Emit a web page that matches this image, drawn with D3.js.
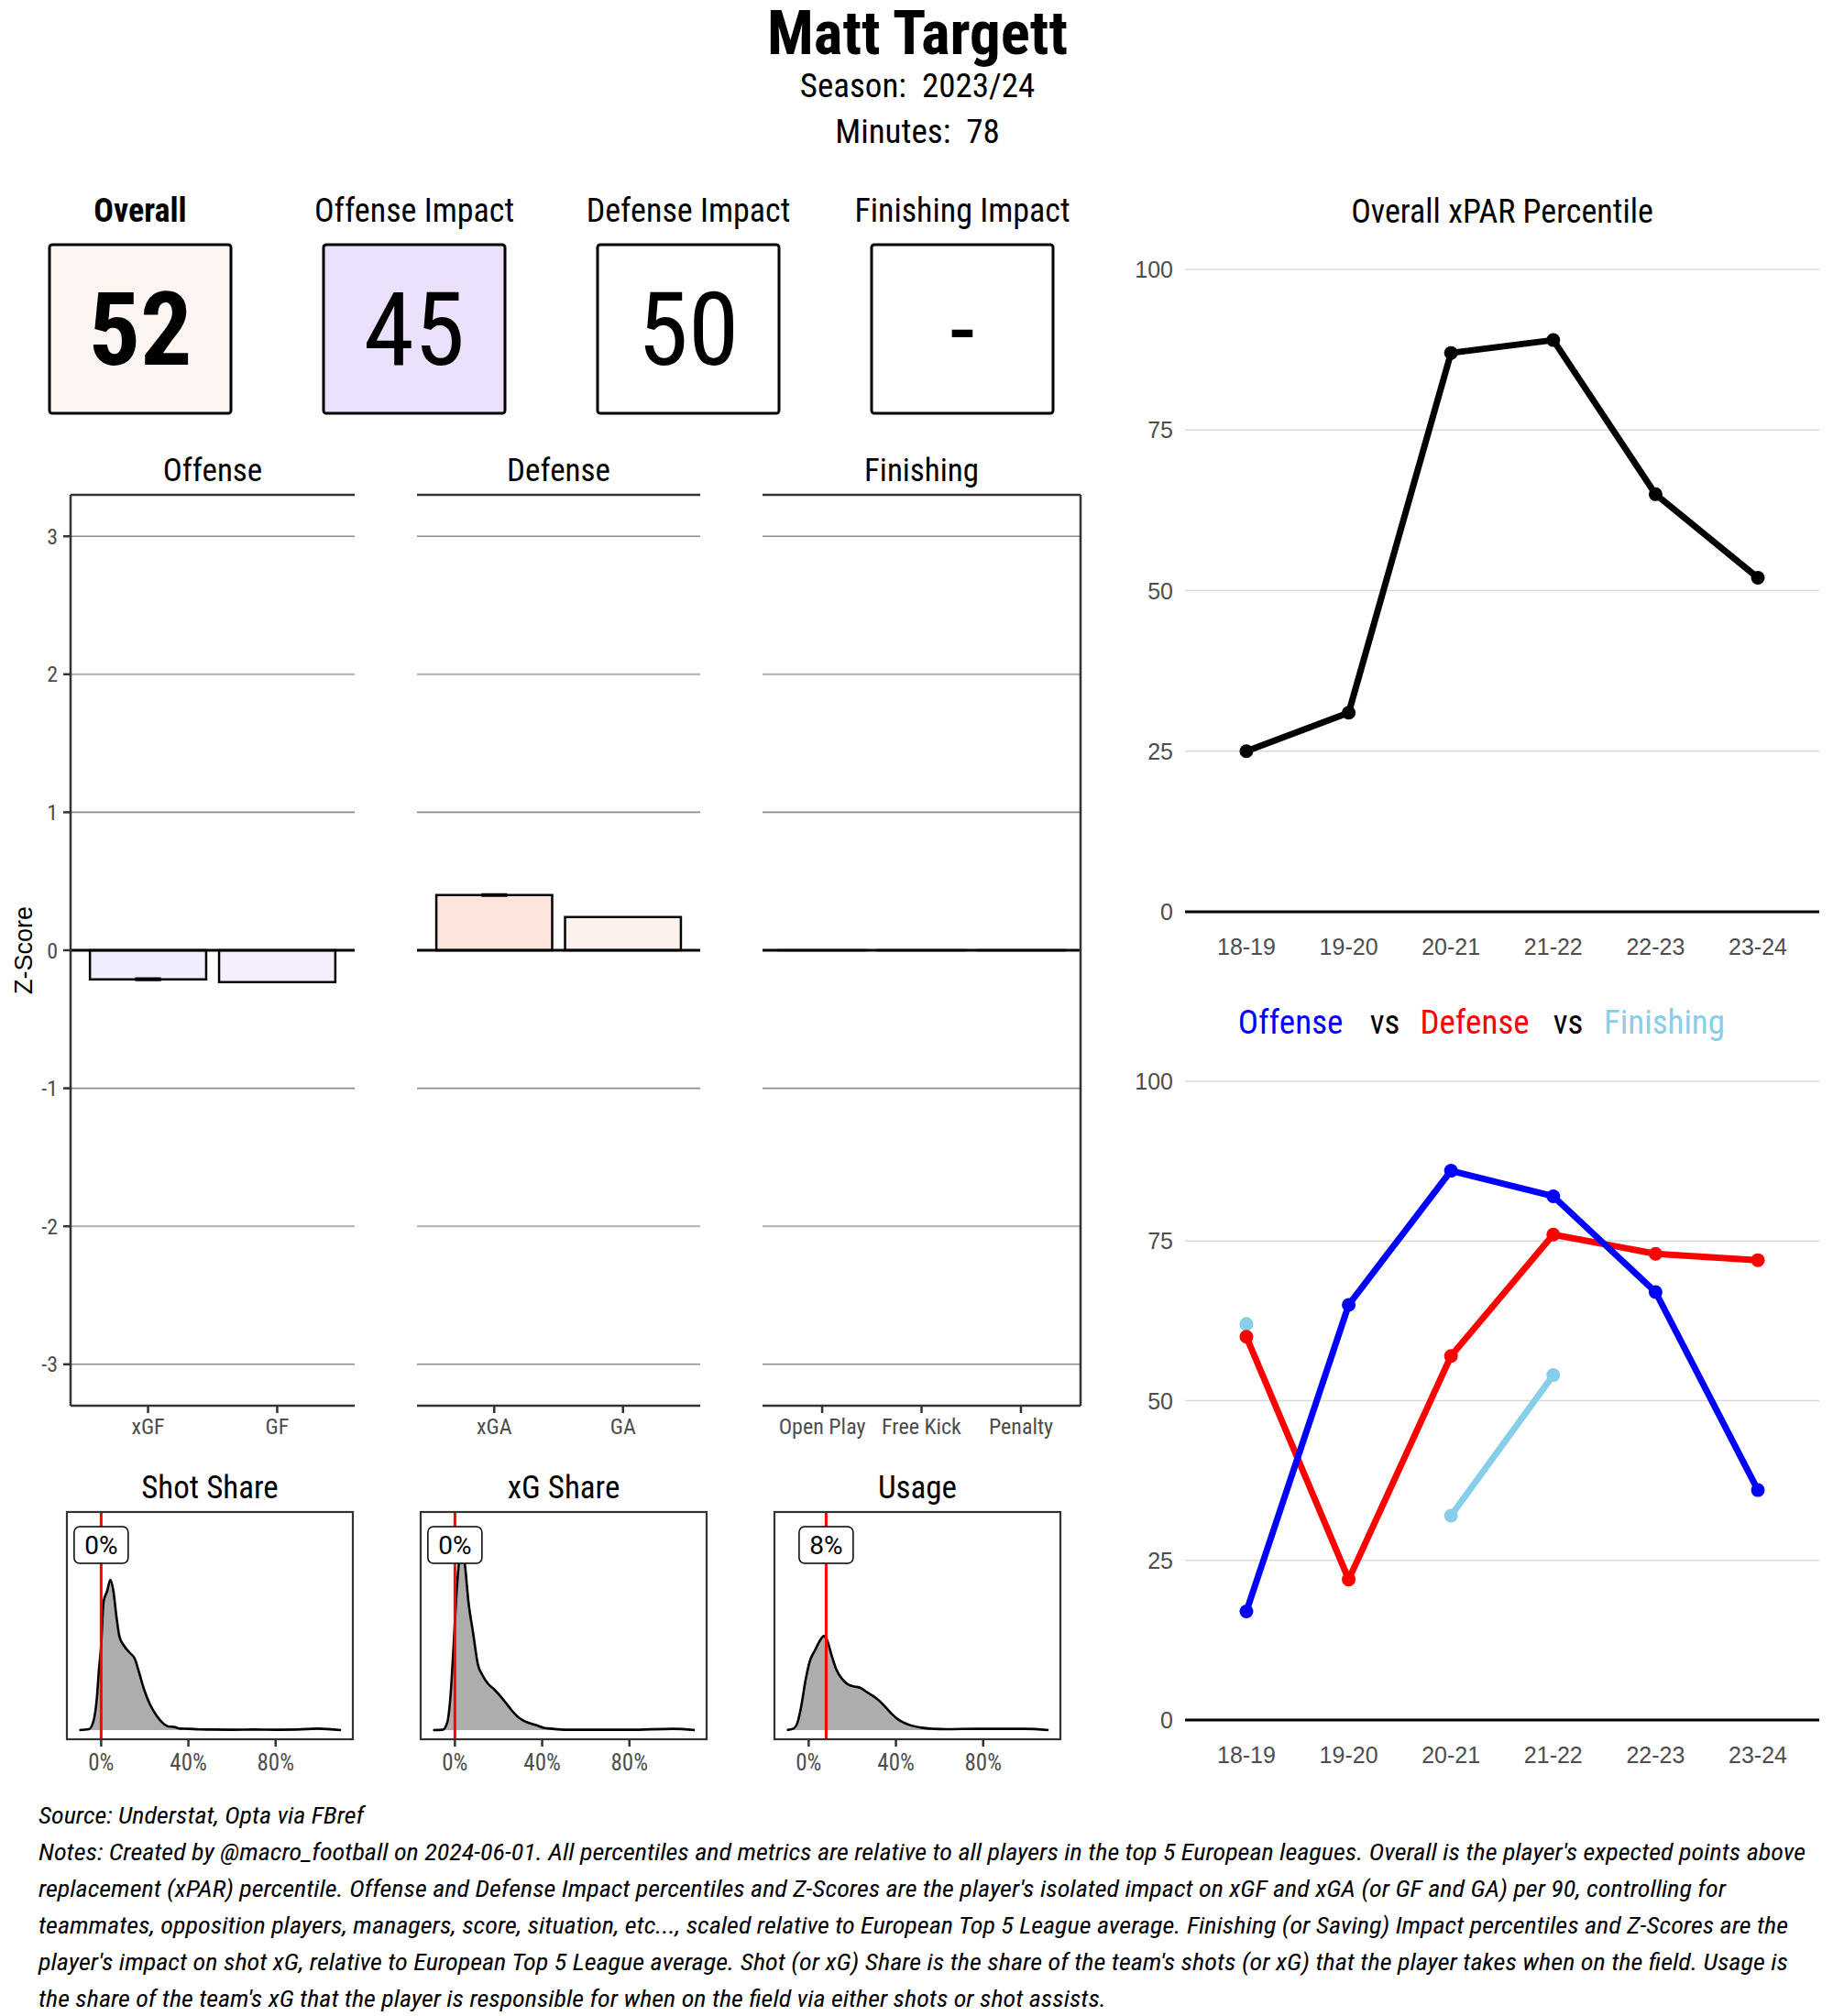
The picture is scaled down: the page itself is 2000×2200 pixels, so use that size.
<!DOCTYPE html>
<html>
<head>
<meta charset="utf-8">
<title>Matt Targett</title>
<style>
  body { margin: 0; background: #fff; }
  svg text { font-family: 'Roboto Condensed', 'Liberation Sans Narrow', 'Arial Narrow', 'DejaVu Sans Condensed', Roboto, sans-serif; font-stretch: condensed; }
  svg text.plain { font-family: 'Liberation Sans', Arial, sans-serif; font-stretch: normal; }
  svg text.rob { font-family: Roboto, sans-serif; font-stretch: normal; }
</style>
</head>
<body>
<div id="chart"></div>
<script src="https://d3js.org/d3.v7.min.js"></script>
<script>
  const playerName = 'Matt Targett';
  const seasonLabel = '2023/24';
  const minutesPlayed = 78;

  const impactTitles = ['Overall', 'Offense Impact', 'Defense Impact', 'Finishing Impact'];
  const impactValues = [52, 45, 50, null];

  const zTicks = [-3, -2, -1, 0, 1, 2, 3];
  const offenseCats = ['xGF', 'GF'];
  const offenseZ = [-0.21, -0.23];
  const offenseErr = [[-0.215, -0.205], null];
  const defenseCats = ['xGA', 'GA'];
  const defenseZ = [0.40, 0.24];
  const defenseErr = [[0.395, 0.405], null];
  const finishingCats = ['Open Play', 'Free Kick', 'Penalty'];
  const finishingZ = [0, 0, 0];

  const shareTicks = [0, 40, 80];
  const shareTitles = ['Shot Share', 'xG Share', 'Usage'];
  const playerShares = [0, 0, 8];
  // [share %, density]
  const shotShareDensity = [[-10,0],[-5.6,0.05],[-3.5,0.5],[-2,1.7],[-1,3.3],[0,4.6],[1.1,7.0],[2.8,7.6],[4.2,8.2],[5.6,7.6],[7,6.2],[8.4,5.1],[10.5,4.6],[13.3,4.2],[15.4,3.9],[17.5,3.1],[19.6,2.25],[22.4,1.4],[25.2,0.83],[28,0.42],[30.8,0.2],[33.6,0.17],[36.4,0.08],[40,0.07],[45,0.04],[50,0.03],[60,0.02],[70,0.03],[80,0.02],[90,0.03],[99,0.08],[110,0]];
  const xgShareDensity = [[-10,0],[-5.6,0.02],[-3.5,0.42],[-2.1,1.75],[-0.7,4.4],[0.7,7.4],[2.1,9.4],[3.1,9.9],[4.2,9.4],[6.3,6.9],[8.4,5.25],[10.5,3.6],[12.6,3.0],[15.4,2.5],[18.2,2.2],[21,1.83],[23.8,1.42],[26.6,1.0],[29.4,0.67],[32.2,0.47],[35,0.35],[37.8,0.25],[40.6,0.13],[44.8,0.07],[51.7,0.02],[60,0.02],[80,0.02],[100,0.07],[110,0]];
  const usageDensity = [[-10,0],[-7,0.08],[-4.9,0.5],[-3.5,1.25],[-1.4,2.75],[0.7,3.83],[2.8,4.33],[4.9,4.83],[7,5.13],[8.4,4.92],[10.5,4.08],[12.6,3.33],[15.4,2.78],[18.2,2.48],[21,2.38],[23.8,2.3],[26.6,2.08],[29.4,1.87],[32.2,1.62],[35,1.28],[37.8,0.92],[40.6,0.62],[43.4,0.42],[46.2,0.28],[51.7,0.13],[57.3,0.07],[63,0.05],[77,0.07],[99,0.07],[110,0]];

  const seasons = ['18-19', '19-20', '20-21', '21-22', '22-23', '23-24'];
  const pctTicks = [0, 25, 50, 75, 100];
  const overallPct = [25, 31, 87, 89, 65, 52];
  const offensePct = [17, 65, 86, 82, 67, 36];
  const defensePct = [60, 22, 57, 76, 73, 72];
  const finishingPct = [62, null, 32, 54, null, null];

  const sourceLine = 'Source: Understat, Opta via FBref';
  const noteLines = [
    "Notes: Created by @macro_football on 2024-06-01. All percentiles and metrics are relative to all players in the top 5 European leagues. Overall is the player's expected points above",
    "replacement (xPAR) percentile. Offense and Defense Impact percentiles and Z-Scores are the player's isolated impact on xGF and xGA (or GF and GA) per 90, controlling for",
    "teammates, opposition players, managers, score, situation, etc..., scaled relative to European Top 5 League average. Finishing (or Saving) Impact percentiles and Z-Scores are the",
    "player's impact on shot xG, relative to European Top 5 League average. Shot (or xG) Share is the share of the team's shots (or xG) that the player takes when on the field. Usage is",
    "the share of the team's xG that the player is responsible for when on the field via either shots or shot assists."
  ];

  const svg = d3.select('#chart').append('svg').attr('width', 2000).attr('height', 2200);
  svg.append('rect').attr('width', 2000).attr('height', 2200).attr('fill', '#fff');

  // header
  svg.append('text').attr('x', 1001).attr('y', 59).attr('text-anchor', 'middle')
    .attr('font-size', 67).attr('font-weight', 'bold').text(playerName);
  svg.append('text').attr('x', 1001).attr('y', 106).attr('text-anchor', 'middle')
    .attr('font-size', 37).style('white-space', 'pre').text(`Season:  ${seasonLabel}`);
  svg.append('text').attr('x', 1001).attr('y', 156).attr('text-anchor', 'middle')
    .attr('font-size', 37).style('white-space', 'pre').text(`Minutes:  ${minutesPlayed}`);

  // impact boxes
  const boxX = d3.scalePoint().domain(impactTitles).range([153, 1050]);
  const boxFill = { 'Overall': '#fdf5f2', 'Offense Impact': '#ece1fd', 'Defense Impact': '#ffffff', 'Finishing Impact': '#ffffff' };
  impactTitles.forEach((t, i) => {
    const cx = boxX(t);
    svg.append('text').attr('x', cx).attr('y', 242).attr('text-anchor', 'middle')
      .attr('font-size', 36).attr('font-weight', i === 0 ? 'bold' : 'normal').text(t);
    svg.append('rect').attr('x', cx - 99).attr('y', 267).attr('width', 198).attr('height', 184)
      .attr('rx', 3).attr('fill', boxFill[t]).attr('stroke', '#000').attr('stroke-width', 3);
    svg.append('text').attr('x', cx).attr('y', 398).attr('text-anchor', 'middle')
      .attr('font-size', 112).attr('font-weight', i === 0 ? 'bold' : 'normal')
      .text(impactValues[i] == null ? '-' : impactValues[i]);
  });

  // z-score panels
  const zScale = d3.scaleLinear().domain([-3.3, 3.3]).range([1534, 540]);
  const zPanels = [
    { title: 'Offense', cats: offenseCats, vals: offenseZ, err: offenseErr, fills: ['#f0edfe', '#f6eefd'], x0: 77, x1: 387 },
    { title: 'Defense', cats: defenseCats, vals: defenseZ, err: defenseErr, fills: ['#fce5dd', '#fdf0ed'], x0: 455, x1: 764 },
    { title: 'Finishing', cats: finishingCats, vals: finishingZ, err: [null, null, null], fills: ['#fff', '#fff', '#fff'], x0: 832, x1: 1179 }
  ];

  zPanels.forEach((p, pi) => {
    const g = svg.append('g');
    const xs = d3.scaleLinear().domain([0.4, p.cats.length + 0.6]).range([p.x0, p.x1]);

    zTicks.filter(t => t !== 0).forEach(t => {
      g.append('line').attr('x1', p.x0).attr('x2', p.x1).attr('y1', zScale(t)).attr('y2', zScale(t))
        .attr('stroke', t % 2 === 0 ? '#b8b8b8' : '#8c8c8c').attr('stroke-width', t % 2 === 0 ? 2.2 : 1.6);
    });

    p.vals.forEach((v, i) => {
      const xa = xs(i + 1 - 0.45), xb = xs(i + 1 + 0.45);
      const y0 = zScale(0), y1 = zScale(v);
      g.append('path').attr('d', `M${xa},${y0}H${xb}V${y1}H${xa}Z`)
        .attr('fill', p.fills[i]).attr('stroke', '#000').attr('stroke-width', 2.5);
      if (p.err[i]) {
        const ea = xs(i + 1 - 0.1), eb = xs(i + 1 + 0.1);
        const lo = zScale(p.err[i][0]), hi = zScale(p.err[i][1]);
        g.append('path').attr('d', `M${ea},${lo}H${eb}M${ea},${hi}H${eb}M${(ea + eb) / 2},${lo}V${hi}`)
          .attr('stroke', '#000').attr('stroke-width', 2.5).attr('fill', 'none');
      }
    });

    g.append('line').attr('x1', p.x0).attr('x2', p.x1).attr('y1', zScale(0)).attr('y2', zScale(0))
      .attr('stroke', '#000').attr('stroke-width', 3);

    // panel frame lines
    g.append('line').attr('x1', p.x0).attr('x2', p.x1).attr('y1', 540).attr('y2', 540).attr('stroke', '#333').attr('stroke-width', 2.5);
    g.append('line').attr('x1', p.x0).attr('x2', p.x1).attr('y1', 1534).attr('y2', 1534).attr('stroke', '#333').attr('stroke-width', 2.5);
    if (pi === 0) g.append('line').attr('x1', p.x0).attr('x2', p.x0).attr('y1', 540).attr('y2', 1534).attr('stroke', '#333').attr('stroke-width', 2.5);
    if (pi === zPanels.length - 1) g.append('line').attr('x1', p.x1).attr('x2', p.x1).attr('y1', 540).attr('y2', 1534).attr('stroke', '#333').attr('stroke-width', 2.5);

    // x ticks
    p.cats.forEach((c, i) => {
      g.append('line').attr('x1', xs(i + 1)).attr('x2', xs(i + 1)).attr('y1', 1534).attr('y2', 1542)
        .attr('stroke', '#333').attr('stroke-width', 2.5);
      g.append('text').attr('x', xs(i + 1)).attr('y', 1565).attr('text-anchor', 'middle')
        .attr('font-size', 24).attr('fill', '#4d4d4d').text(c);
    });

    g.append('text').attr('x', (p.x0 + p.x1) / 2).attr('y', 525).attr('text-anchor', 'middle')
      .attr('font-size', 35).text(p.title);

    if (pi === 0) {
      zTicks.forEach(t => {
        g.append('line').attr('x1', 69).attr('x2', 77).attr('y1', zScale(t)).attr('y2', zScale(t))
          .attr('stroke', '#333').attr('stroke-width', 2.5);
        g.append('text').attr('x', 63).attr('y', zScale(t)).attr('dy', '0.36em').attr('text-anchor', 'end')
          .attr('font-size', 24).attr('fill', '#4d4d4d').text(t);
      });
    }
  });

  svg.append('text').attr('class', 'plain').attr('transform', 'translate(35,1037) rotate(-90)')
    .attr('text-anchor', 'middle').attr('font-size', 27).text('Z-Score');

  // share density panels
  const shareData = [shotShareDensity, xgShareDensity, usageDensity];
  const sharePanelX = [73, 459, 845];
  const shareY = d3.scaleLinear().domain([-0.5, 11.9]).range([1898, 1650]);
  shareTitles.forEach((t, i) => {
    const x0 = sharePanelX[i], x1 = x0 + 312;
    const xs = d3.scaleLinear().domain([-15.7, 115.4]).range([x0, x1]);
    const g = svg.append('g');
    const area = d3.area().x(d => xs(d[0])).y0(shareY(0)).y1(d => shareY(d[1])).curve(d3.curveMonotoneX);
    const line = d3.line().x(d => xs(d[0])).y(d => shareY(d[1])).curve(d3.curveMonotoneX);
    g.append('path').datum(shareData[i]).attr('d', area).attr('fill', '#adadad');
    g.append('path').datum(shareData[i]).attr('d', line).attr('fill', 'none').attr('stroke', '#000').attr('stroke-width', 2.6);
    g.append('line').attr('x1', xs(playerShares[i])).attr('x2', xs(playerShares[i])).attr('y1', 1650).attr('y2', 1898)
      .attr('stroke', 'red').attr('stroke-width', 3);
    const lx = xs(playerShares[i]), ly = shareY(10.1);
    g.append('rect').attr('x', lx - 29.5).attr('y', ly - 20).attr('width', 59).attr('height', 40)
      .attr('rx', 6).attr('fill', '#fff').attr('stroke', '#000').attr('stroke-width', 1.5);
    g.append('text').attr('class', 'rob').attr('x', lx).attr('y', ly).attr('dy', '0.36em').attr('text-anchor', 'middle')
      .attr('font-size', 28).text(`${playerShares[i]}%`);
    g.append('rect').attr('x', x0).attr('y', 1650).attr('width', x1 - x0).attr('height', 248)
      .attr('fill', 'none').attr('stroke', '#333').attr('stroke-width', 2.2);
    shareTicks.forEach(v => {
      g.append('line').attr('x1', xs(v)).attr('x2', xs(v)).attr('y1', 1898).attr('y2', 1906)
        .attr('stroke', '#333').attr('stroke-width', 2.5);
      g.append('text').attr('x', xs(v)).attr('y', 1932).attr('text-anchor', 'middle')
        .attr('font-size', 25).attr('fill', '#4d4d4d').text(`${v}%`);
    });
    g.append('text').attr('x', (x0 + x1) / 2).attr('y', 1635).attr('text-anchor', 'middle')
      .attr('font-size', 35).text(t);
  });

  // percentile line charts
  const seasonX = d3.scalePoint().domain(seasons).range([1293, 1985]).padding(0.6);

  function pctChart(yTop, yZero, series) {
    const ys = d3.scaleLinear().domain([0, 100]).range([yZero, yTop]);
    const g = svg.append('g');
    pctTicks.forEach(t => {
      if (t > 0) {
        g.append('line').attr('x1', 1293).attr('x2', 1985).attr('y1', ys(t)).attr('y2', ys(t))
          .attr('stroke', '#d9d9d9').attr('stroke-width', 1.5);
      }
      g.append('text').attr('class', 'plain').attr('x', 1280).attr('y', ys(t)).attr('dy', '0.36em')
        .attr('text-anchor', 'end').attr('font-size', 25).attr('fill', '#4d4d4d').text(t);
    });
    g.append('line').attr('x1', 1293).attr('x2', 1985).attr('y1', ys(0)).attr('y2', ys(0))
      .attr('stroke', '#000').attr('stroke-width', 3);
    seasons.forEach(s => {
      g.append('text').attr('class', 'plain').attr('x', seasonX(s)).attr('y', yZero + 47)
        .attr('text-anchor', 'middle').attr('font-size', 25).attr('fill', '#4d4d4d').text(s);
    });
    const line = d3.line().defined(d => d.v != null).x(d => seasonX(d.s)).y(d => ys(d.v));
    series.forEach(sr => {
      const pts = seasons.map((s, i) => ({ s, v: sr.values[i] }));
      g.append('path').datum(pts).attr('d', line).attr('fill', 'none')
        .attr('stroke', sr.color).attr('stroke-width', 7).attr('stroke-linejoin', 'round');
      g.selectAll(null).data(pts.filter(d => d.v != null)).enter().append('circle')
        .attr('cx', d => seasonX(d.s)).attr('cy', d => ys(d.v)).attr('r', 7.5).attr('fill', sr.color);
    });
  }

  svg.append('text').attr('x', 1639).attr('y', 243).attr('text-anchor', 'middle')
    .attr('font-size', 36).text('Overall xPAR Percentile');
  pctChart(294, 995, [{ values: overallPct, color: '#000' }]);

  const vsWords = [['Offense', 'blue', 1408], ['vs', '#000', 1511], ['Defense', 'red', 1609], ['vs', '#000', 1711], ['Finishing', 'skyblue', 1816]];
  vsWords.forEach(w => {
    svg.append('text').attr('x', w[2]).attr('y', 1128).attr('text-anchor', 'middle')
      .attr('font-size', 37).attr('fill', w[1]).text(w[0]);
  });
  pctChart(1180, 1877, [
    { values: finishingPct, color: 'skyblue' },
    { values: defensePct, color: 'red' },
    { values: offensePct, color: 'blue' }
  ]);

  // footer
  const lineEnds = [1970, 1883, 1951, 1951, 1207];
  svg.append('text').attr('x', 42).attr('y', 1990).attr('font-size', 26).attr('font-style', 'italic')
    .attr('textLength', 355).attr('lengthAdjust', 'spacingAndGlyphs').text(sourceLine);
  noteLines.forEach((l, i) => {
    svg.append('text').attr('x', 42).attr('y', 2030 + i * 40).attr('font-size', 26).attr('font-style', 'italic')
      .attr('textLength', lineEnds[i] - 42).attr('lengthAdjust', 'spacingAndGlyphs').text(l);
  });
</script>
</body>
</html>
